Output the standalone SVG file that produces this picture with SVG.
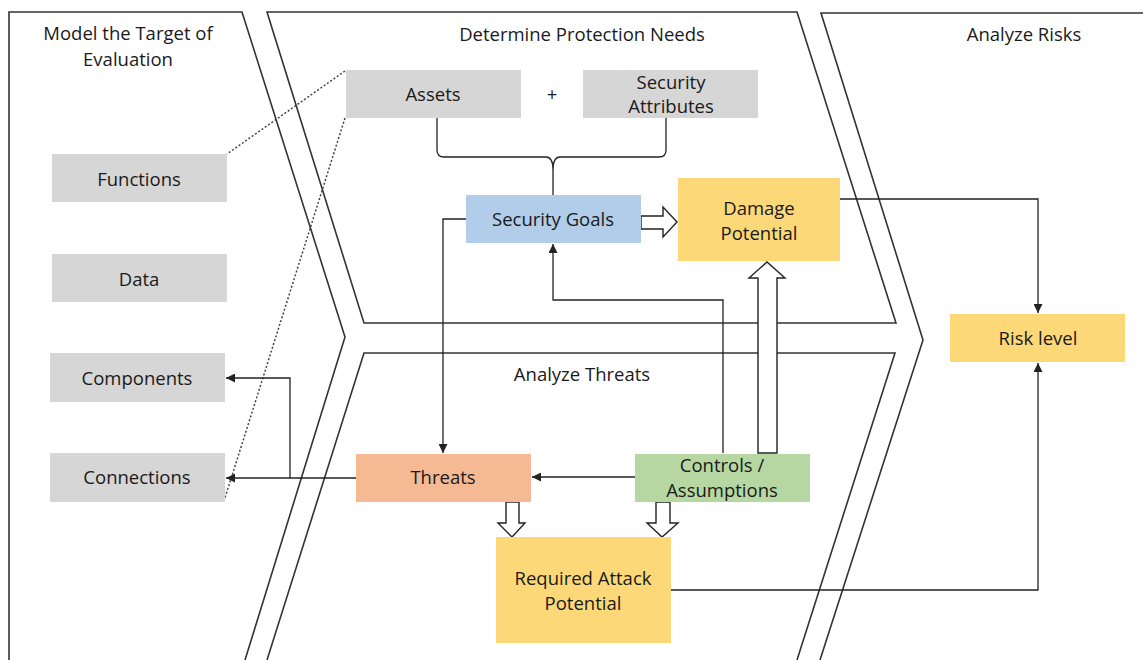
<svg xmlns="http://www.w3.org/2000/svg" width="1143" height="660" viewBox="0 0 1143 660">
<defs>
<style>
.panel{fill:none;stroke:#333;stroke-width:1.6;stroke-linejoin:miter}
.t{font-family:"Open Sans","Liberation Sans",sans-serif;font-size:18.5px;fill:#1a1a1a;text-anchor:middle}
.gray{fill:#d6d6d6}
.conn{fill:none;stroke:#222;stroke-width:1.3}
.dot{fill:none;stroke:#444;stroke-width:1.5;stroke-dasharray:2 2}
.block{fill:#fff;stroke:#222;stroke-width:1.4;stroke-linejoin:miter}
</style>
<marker id="ah" viewBox="0 0 10 10" refX="10" refY="5" markerWidth="9" markerHeight="9" markerUnits="userSpaceOnUse" orient="auto">
<path d="M0,0 L10,5 L0,10 z" fill="#222"/>
</marker>
</defs>
<rect width="1143" height="660" fill="#fff"/>

<g id="panels">
<polyline class="panel" points="9,660 9,12 242,12 345,337 245,660"/>
<polygon class="panel" points="267,12 797,12 896,323 364,323"/>
<polyline class="panel" points="267,660 364,353 895,353 797,660"/>
<polyline class="panel" points="820,660 923,340 821,13 1143,13"/>
<text class="t" x="128" y="40">Model the Target of</text>
<text class="t" x="128" y="66">Evaluation</text>
<text class="t" x="582" y="41">Determine Protection Needs</text>
<text class="t" x="1024" y="41">Analyze Risks</text>
<text class="t" x="582" y="381">Analyze Threats</text>
</g>

<g id="connectors">
<line class="dot" x1="345" y1="71" x2="227" y2="154"/>
<line class="dot" x1="345" y1="118" x2="224" y2="501"/>
<path class="conn" d="M437,118 V150 Q437,157 444,157 H546 Q553,157 553,170 V195 M666,118 V150 Q666,157 659,157 H560 Q553,157 553,170"/>
<path class="conn" d="M466,219 H443 V453" marker-end="url(#ah)"/>
<path class="conn" d="M723,453 V300 H553 V244" marker-end="url(#ah)"/>
<path class="conn" d="M635,477 H532" marker-end="url(#ah)"/>
<path class="conn" d="M356,478 H226" marker-end="url(#ah)"/>
<path class="conn" d="M290,478 V378 H226" marker-end="url(#ah)"/>
<path class="conn" d="M840,199 H1038 V313" marker-end="url(#ah)"/>
<path class="conn" d="M671,590 H1038 V363" marker-end="url(#ah)"/>
<polygon class="block" points="641,216 663,216 663,207 677,222 663,237 663,229 641,229"/>
<polygon class="block" points="758,453 758,278 749,278 767,262 785,278 777,278 777,453"/>
<polygon class="block" points="506,502 519,502 519,523 525,523 512,537 498,523 506,523"/>
<polygon class="block" points="656,502 670,502 670,523 678,523 662,537 647,523 656,523"/>
</g>

<g id="functions"><rect class="gray" x="52" y="154" width="175" height="48"/><text class="t" x="139" y="186">Functions</text></g>
<g id="data"><rect class="gray" x="52" y="254" width="175" height="48"/><text class="t" x="139" y="286">Data</text></g>
<g id="components"><rect class="gray" x="50" y="353" width="175" height="49"/><text class="t" x="137" y="385">Components</text></g>
<g id="connections"><rect class="gray" x="50" y="453" width="175" height="49"/><text class="t" x="137" y="484">Connections</text></g>
<g id="assets"><rect class="gray" x="346" y="70" width="175" height="48"/><text class="t" x="433" y="101">Assets</text></g>
<g id="plus"><text class="t" x="552" y="101">+</text></g>
<g id="security-attributes"><rect class="gray" x="583" y="70" width="175" height="48"/><text class="t" x="671" y="89">Security</text><text class="t" x="671" y="113">Attributes</text></g>
<g id="security-goals"><rect x="466" y="195" width="175" height="48" fill="#b1cde9"/><text class="t" x="553" y="226">Security Goals</text></g>
<g id="damage-potential"><rect x="678" y="178" width="162" height="83" fill="#fdd878"/><text class="t" x="759" y="215">Damage</text><text class="t" x="759" y="240">Potential</text></g>
<g id="risk-level"><rect x="950" y="314" width="175" height="48" fill="#fdd878"/><text class="t" x="1038" y="345">Risk level</text></g>
<g id="threats"><rect x="356" y="454" width="175" height="48" fill="#f5b994"/><text class="t" x="443" y="484">Threats</text></g>
<g id="controls"><rect x="635" y="454" width="175" height="48" fill="#b6d7a2"/><text class="t" x="722" y="472">Controls /</text><text class="t" x="722" y="497">Assumptions</text></g>
<g id="required-attack-potential"><rect x="496" y="537" width="175" height="106" fill="#fdd878"/><text class="t" x="583" y="585">Required Attack</text><text class="t" x="583" y="610">Potential</text></g>
</svg>
